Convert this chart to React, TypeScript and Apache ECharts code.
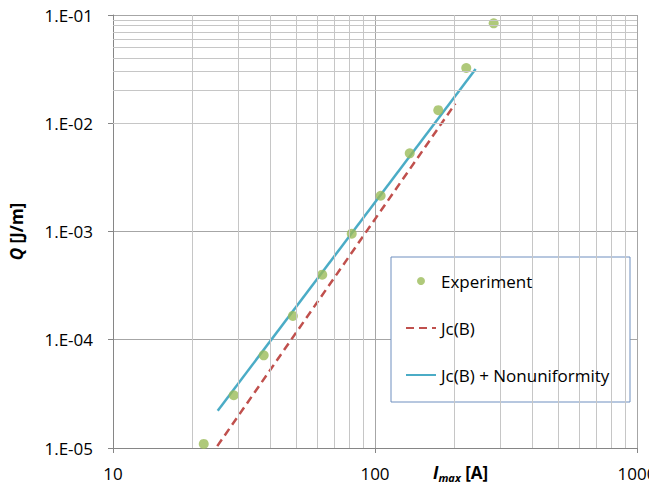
import React, { useEffect, useRef } from "react";
import * as echarts from "echarts";

const expI = [22.2, 28.9, 37.6, 48.6, 62.9, 81.5, 105.1, 135.7, 174.4, 223, 283.8];
const expQ = [1.09e-5, 3.07e-5, 7.18e-5, 1.66e-4, 3.99e-4, 9.55e-4, 2.14e-3, 5.27e-3, 1.32e-2, 3.24e-2, 8.37e-2];
const jcI = [25.0, 202.6];
const jcQ = [1.04e-5, 1.52e-2];
const nonI = [25.1, 242.2];
const nonQ = [2.21e-5, 3.17e-2];

const xTickLabels = ["10", "100", "1000"];
const yTickLabels = ["1.E-05", "1.E-04", "1.E-03", "1.E-02", "1.E-01"];
const xMinorGrid = [20, 30, 40, 50, 60, 70, 80, 90, 200, 300, 400, 500, 600, 700, 800, 900];
const yMinorGrid: number[] = [];
[1e-5, 1e-4, 1e-3, 1e-2].forEach((d) => {
  for (let k = 2; k <= 9; k++) yMinorGrid.push(+(d * k).toPrecision(3));
});

const FONT = "'Open Sans', sans-serif";

export default function App() {
  const ref = useRef<HTMLDivElement>(null);
  useEffect(() => {
    const chart = echarts.init(ref.current!, null, { renderer: "svg" });
    const minorStyle = { color: "#c6c6c6", width: 1, type: "solid" as const };
    const hidden = { opacity: 0, borderWidth: 0 };
    chart.setOption({
      animation: false,
      backgroundColor: "#ffffff",
      grid: { left: 113, right: 12, top: 15, bottom: 39, outerBoundsMode: "none", containLabel: false },
      xAxis: {
        type: "log",
        logBase: 10,
        min: 10,
        max: 1000,
        axisLine: { show: true, lineStyle: { color: "#868686", width: 1 } },
        axisTick: { show: true, length: 5, lineStyle: { color: "#868686" } },
        axisLabel: {
          margin: 17,
          color: "#000",
          fontFamily: FONT,
          fontSize: 17,
          hideOverlap: false,
          formatter: (v: number) => xTickLabels[Math.round(Math.log10(v)) - 1],
        },
        splitLine: { show: true, lineStyle: { color: "#a6a6a6", width: 1 } },
      },
      yAxis: {
        type: "log",
        logBase: 10,
        min: 1e-5,
        max: 1e-1,
        axisLine: { show: true, lineStyle: { color: "#868686", width: 1 } },
        axisTick: { show: true, length: 5, lineStyle: { color: "#868686" } },
        axisLabel: {
          margin: 20,
          color: "#000",
          fontFamily: FONT,
          fontSize: 17,
          formatter: (v: number) => yTickLabels[Math.round(Math.log10(v)) + 5],
        },
        splitLine: { show: true, lineStyle: { color: "#a6a6a6", width: 1 } },
        name: "{q|Q} [J/m]",
        nameLocation: "middle",
        nameRotate: 90,
        nameGap: 88,
        nameTextStyle: {
          fontFamily: FONT,
          fontSize: 17,
          fontWeight: "bold",
          color: "#000",
          rich: {
            q: { fontFamily: FONT, fontSize: 17, fontWeight: "bold", fontStyle: "italic", color: "#000" },
          },
        },
      },
      legend: {
        orient: "vertical",
        left: 400,
        top: 266,
        itemWidth: 30,
        itemHeight: 8,
        itemGap: 27,
        z: 10,
        data: [
          { name: "Experiment", icon: "circle" },
          { name: "Jc(B)", itemStyle: hidden },
          { name: "Jc(B) + Nonuniformity", itemStyle: hidden },
        ],
        textStyle: { fontFamily: FONT, fontSize: 17, color: "#000", lineHeight: 20 },
      },
      graphic: [
        {
          type: "rect",
          z: 5,
          shape: { x: 391, y: 257, width: 239, height: 145 },
          style: { fill: "#ffffff", stroke: "#6f8fbf", lineWidth: 1 },
        },
        {
          type: "text",
          z: 5,
          x: 433,
          y: 461,
          style: {
            text: "{i|I}{s|max}{n| [A]}",
            rich: {
              i: { fontFamily: FONT, fontSize: 17, fontWeight: "bold", fontStyle: "italic", fill: "#000", lineHeight: 22 },
              s: { fontFamily: FONT, fontSize: 11, fontWeight: "bold", fontStyle: "italic", fill: "#000", verticalAlign: "bottom", lineHeight: 12 },
              n: { fontFamily: FONT, fontSize: 17, fontWeight: "bold", fill: "#000", lineHeight: 22 },
            },
          },
        },
      ],
      series: [
        {
          type: "line",
          name: "grid",
          data: [],
          z: 0,
          silent: true,
          markLine: {
            silent: true,
            symbol: "none",
            label: { show: false },
            lineStyle: minorStyle,
            emphasis: { disabled: true },
            data: [
              ...xMinorGrid.map((v) => ({ xAxis: v })),
              ...yMinorGrid.map((v) => ({ yAxis: v })),
            ],
          },
        },
        {
          type: "line",
          name: "Jc(B)",
          data: jcI.map((x, i) => [x, jcQ[i]]),
          symbol: "none",
          z: 3,
          lineStyle: { color: "#c0504d", width: 2.5, type: [8, 5] },
          itemStyle: { color: "#c0504d" },
        },
        {
          type: "line",
          name: "Jc(B) + Nonuniformity",
          data: nonI.map((x, i) => [x, nonQ[i]]),
          symbol: "none",
          z: 3,
          lineStyle: { color: "#4bacc6", width: 2.5 },
          itemStyle: { color: "#4bacc6" },
        },
        {
          type: "scatter",
          name: "Experiment",
          data: expI.map((x, i) => [x, expQ[i]]),
          symbol: "circle",
          symbolSize: 10,
          z: 4,
          itemStyle: { color: "#9bbb59" },
        },
      ],
    });
    return () => chart.dispose();
  }, []);
  return (
    <div
      ref={ref}
      style={{ position: "fixed", left: 0, top: 0, width: 649, height: 487 }}
    />
  );
}
